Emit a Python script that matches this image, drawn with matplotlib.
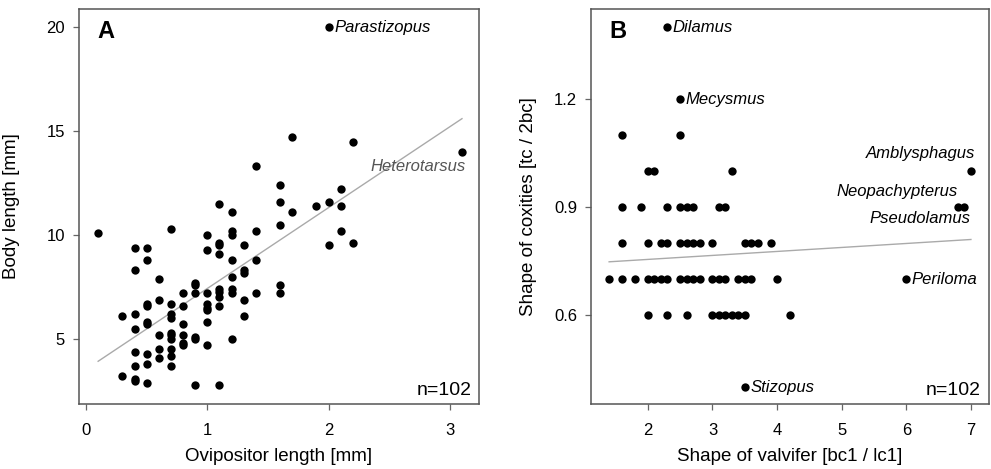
import numpy as np
import matplotlib
matplotlib.use('Agg')
import matplotlib.pyplot as plt

plt.rcParams['font.family'] = ['Liberation Sans', 'DejaVu Sans']

# panel A : ovipositor length vs body length
ovi_len = [0.1, 0.3, 0.3, 0.4, 0.4, 0.4, 0.4, 0.4, 0.4, 0.4, 0.4,
           0.5, 0.5, 0.5, 0.5, 0.5, 0.5, 0.5, 0.5, 0.5,
           0.6, 0.6, 0.6, 0.6, 0.6,
           0.7, 0.7, 0.7, 0.7, 0.7, 0.7, 0.7, 0.7, 0.7, 0.7,
           0.8, 0.8, 0.8, 0.8, 0.8, 0.8,
           0.9, 0.9, 0.9, 0.9, 0.9, 0.9,
           1.0, 1.0, 1.0, 1.0, 1.0, 1.0, 1.0, 1.0,
           1.1, 1.1, 1.1, 1.1, 1.1, 1.1, 1.1, 1.1, 1.1,
           1.2, 1.2, 1.2, 1.2, 1.2, 1.2, 1.2, 1.2,
           1.3, 1.3, 1.3, 1.3, 1.3,
           1.4, 1.4, 1.4, 1.4,
           1.6, 1.6, 1.6, 1.6, 1.6,
           1.7, 1.7, 1.9, 2.0, 2.0, 2.0, 2.1, 2.1, 2.1, 2.2, 2.2, 3.1]
body_len = [10.1, 6.1, 3.2, 9.4, 8.3, 6.2, 5.5, 4.4, 3.7, 3.1, 3.0,
            9.4, 8.8, 6.7, 6.6, 5.8, 5.7, 4.3, 3.8, 2.9,
            7.9, 6.9, 5.2, 4.5, 4.1,
            10.3, 6.7, 6.2, 6.0, 5.3, 5.2, 5.0, 4.5, 4.2, 3.7,
            7.2, 6.6, 5.7, 5.2, 4.8, 4.7,
            7.7, 7.6, 7.2, 5.1, 5.0, 2.8,
            10.0, 9.3, 7.2, 6.7, 6.5, 6.4, 5.8, 4.7,
            11.5, 9.6, 9.5, 9.1, 7.4, 7.25, 7.0, 6.6, 2.8,
            11.1, 10.2, 10.0, 8.8, 8.0, 7.4, 7.2, 5.0,
            9.5, 8.3, 8.2, 6.9, 6.1,
            13.3, 10.2, 8.8, 7.2,
            12.4, 11.6, 10.5, 7.6, 7.2,
            14.7, 11.1, 11.4, 20.0, 11.6, 9.5, 12.2, 11.4, 10.2, 14.5, 9.6, 14.0]
fit_a_x = [0.1, 3.1]
fit_a_y = [3.93, 15.6]

# panel B : valvifer shape vs coxite shape
valv = [2.3, 2.5, 1.6, 2.5, 2.0, 2.1, 3.3, 7.0,
        1.6, 1.9, 2.3, 2.5, 2.6, 2.7, 3.1, 3.2, 6.8, 6.9,
        1.6, 2.0, 2.2, 2.3, 2.5, 2.6, 2.7, 2.8, 3.0, 3.5, 3.6, 3.7, 3.9,
        1.4, 1.6, 1.8, 2.0, 2.1, 2.2, 2.3, 2.5, 2.6, 2.7, 2.8, 3.0, 3.1, 3.2, 3.4, 3.5, 3.6, 4.0, 6.0,
        2.0, 2.3, 2.6, 3.0, 3.1, 3.2, 3.3, 3.4, 3.5, 4.2,
        3.5]
coxa = [1.4, 1.2, 1.1, 1.1, 1.0, 1.0, 1.0, 1.0,
        0.9, 0.9, 0.9, 0.9, 0.9, 0.9, 0.9, 0.9, 0.9, 0.9,
        0.8, 0.8, 0.8, 0.8, 0.8, 0.8, 0.8, 0.8, 0.8, 0.8, 0.8, 0.8, 0.8,
        0.7, 0.7, 0.7, 0.7, 0.7, 0.7, 0.7, 0.7, 0.7, 0.7, 0.7, 0.7, 0.7, 0.7, 0.7, 0.7, 0.7, 0.7, 0.7,
        0.6, 0.6, 0.6, 0.6, 0.6, 0.6, 0.6, 0.6, 0.6, 0.6,
        0.4]
fit_b_x = [1.4, 7.0]
fit_b_y = [0.748, 0.81]

# labelled genera: name, x, y, offset (pt), ha, colour
labels_a = [('Parastizopus', 2.0, 20.0, (4, 0), 'left', 'black'),
            ('Heterotarsus', 3.1, 14.0, (2.5, -10.5), 'right', '#555555')]
labels_b = [('Dilamus', 2.3, 1.4, (4, 0), 'left', 'black'),
            ('Mecysmus', 2.5, 1.2, (4, 0), 'left', 'black'),
            ('Amblysphagus', 7.0, 1.0, (3, 13), 'right', 'black'),
            ('Neopachypterus', 6.8, 0.9, (0, 11), 'right', 'black'),
            ('Pseudolamus', 6.9, 0.9, (4, -8.5), 'right', 'black'),
            ('Periloma', 6.0, 0.7, (4, 0), 'left', 'black'),
            ('Stizopus', 3.5, 0.4, (4, 0), 'left', 'black')]


def style(ax):
    for s in ax.spines.values():
        s.set_color('#555555')
        s.set_linewidth(1.1)
    ax.tick_params(length=4, width=0.9, color='#666666', labelsize=12)
    ax.tick_params(axis='x', pad=9.5)
    ax.tick_params(axis='y', pad=6)


fig = plt.figure(figsize=(9.91, 4.69), dpi=100)

axA = fig.add_axes([0.0797, 0.1386, 0.4036, 0.842])
axA.plot(fit_a_x, fit_a_y, color='#aaaaaa', lw=1)
axA.plot(ovi_len, body_len, 'o', color='black', ms=6, mew=0)
axA.set_xlim(-0.058, 3.24)
axA.set_ylim(1.875, 20.87)
axA.set_xticks([0, 1, 2, 3])
axA.set_yticks([5, 10, 15, 20])
axA.set_xlabel('Ovipositor length [mm]', fontsize=13.5, va='top')
axA.set_ylabel('Body length [mm]', fontsize=13.5)
axA.xaxis.set_label_coords(0.5, -0.112)
axA.yaxis.set_label_coords(-0.148, 0.5)
style(axA)
axA.text(0.067, 0.943, 'A', transform=axA.transAxes, fontsize=17,
         fontweight='bold', va='center', ha='center')
axA.text(0.983, 0.013, 'n=102', transform=axA.transAxes, fontsize=14,
         ha='right', va='bottom')
for name, x, y, off, ha, c in labels_a:
    axA.annotate(name, (x, y), xytext=off, textcoords='offset points',
                 ha=ha, va='center', fontsize=12, style='italic', color=c)

axB = fig.add_axes([0.5964, 0.1386, 0.4016, 0.842])
axB.plot(fit_b_x, fit_b_y, color='#aaaaaa', lw=1)
axB.plot(valv, coxa, 'o', color='black', ms=6, mew=0)
axB.set_xlim(1.12, 7.28)
axB.set_ylim(0.353, 1.45)
axB.set_xticks([2, 3, 4, 5, 6, 7])
axB.set_yticks([0.6, 0.9, 1.2])
axB.set_yticklabels(['0.6', '0.9', '1.2'])
axB.set_xlabel('Shape of valvifer [bc1 / lc1]', fontsize=13.5, va='top')
axB.set_ylabel('Shape of coxities [tc / 2bc]', fontsize=13.5)
axB.xaxis.set_label_coords(0.5, -0.112)
axB.yaxis.set_label_coords(-0.136, 0.5)
style(axB)
axB.text(0.068, 0.943, 'B', transform=axB.transAxes, fontsize=17,
         fontweight='bold', va='center', ha='center')
axB.text(0.979, 0.013, 'n=102', transform=axB.transAxes, fontsize=14,
         ha='right', va='bottom')
for name, x, y, off, ha, c in labels_b:
    axB.annotate(name, (x, y), xytext=off, textcoords='offset points',
                 ha=ha, va='center', fontsize=12, style='italic', color=c)

fig.savefig('out.png', dpi=100)
